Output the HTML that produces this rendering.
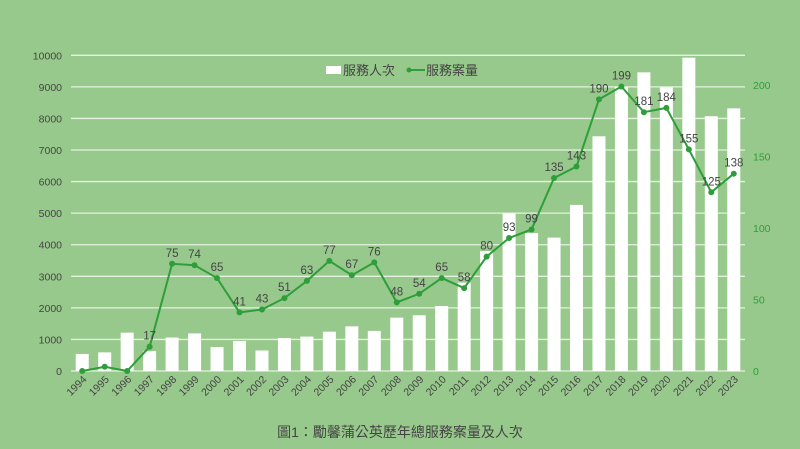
<!DOCTYPE html>
<html><head><meta charset="utf-8"><style>
html,body{margin:0;padding:0;background:#98c98c;}
svg{display:block;font-family:"Liberation Sans","Noto Sans CJK TC",sans-serif;}
</style></head><body>
<svg id="c" width="800" height="449" viewBox="0 0 800 449">
<rect x="0" y="0" width="800" height="449" fill="#98c98c"/>
<g id="grid"></g><g id="bars"></g><g id="line"></g><g id="axes"></g>
<g>
<rect x="326" y="66" width="15" height="8" fill="#fff"/>
<text x="343" y="75" font-size="13" fill="#444">服務人次</text>
<line x1="407" y1="70" x2="425" y2="70" stroke="#2e9e3a" stroke-width="2"/>
<circle cx="409" cy="70" r="2.5" fill="#2e9e3a"/>
<text x="426" y="75" font-size="13" fill="#444">服務案量</text>
</g>
<text x="400" y="437" font-size="14" fill="#444" text-anchor="middle">圖1：勵馨蒲公英歷年總服務案量及人次</text>
</svg>
<script>
const years=["1994","1995","1996","1997","1998","1999","2000","2001","2002","2003","2004","2005","2006","2007","2008","2009","2010","2011","2012","2013","2014","2015","2016","2017","2018","2019","2020","2021","2022","2023"];
const people=[540,590,1215,630,1060,1190,760,950,650,1045,1090,1245,1415,1270,1690,1765,2060,2800,3800,4995,4370,4225,5260,7435,9000,9460,8980,9925,8070,8320];
const cases=[0,3,0,17,75,74,65,41,43,51,63,77,67,76,48,54,65,58,80,93,99,135,143,190,199,181,184,155,125,138];
const leftTicks=[0,1000,2000,3000,4000,5000,6000,7000,8000,9000,10000];
const rightTicks=[0,50,100,150,200];
const NS="http://www.w3.org/2000/svg";
const X0=71,X1=745,Y0=371,Y1=55.3,LMAX=10000,RMAX=220.8;
const bw=(X1-X0)/years.length;
const xc=i=>X0+bw*(i+0.5);
const yl=v=>Y0-(v/LMAX)*(Y0-Y1);
const yr=v=>Y0-(v/RMAX)*(Y0-Y1);
function mk(tag,attrs,parent){const e=document.createElementNS(NS,tag);for(const k in attrs)e.setAttribute(k,attrs[k]);parent.appendChild(e);return e;}
const grid=document.getElementById('grid'),bars=document.getElementById('bars'),line=document.getElementById('line'),axes=document.getElementById('axes');
leftTicks.forEach(t=>{
  const g=mk('line',{x1:X0,x2:X1,y1:yl(t),y2:yl(t),stroke:'#e4f1df','stroke-width':1.3},grid);
  
  
  const tx=mk('text',{x:62,y:yl(t)+4,'font-size':10.5,fill:'#444','text-anchor':'end'},axes);
  tx.textContent=t;
  
  
});
rightTicks.forEach(t=>{
  const tx=mk('text',{x:753,y:yr(t)+4,'font-size':10.5,fill:'#2e9e3a'},axes);
  tx.textContent=t;
  
  
});
people.forEach((v,i)=>{
  const r=mk('rect',{x:xc(i)-6.5,y:yl(v),width:13,height:Y0-yl(v),fill:'#fff'},bars);
  
  
});
years.forEach((y,i)=>{
  const tx=mk('text',{x:0,y:0,'font-size':10.5,fill:'#444','text-anchor':'end',transform:`translate(${xc(i)+5},${Y0+9}) rotate(-45)`},axes);
  tx.textContent=y;
  
  
});
const pts=cases.map((v,i)=>xc(i)+','+yr(v)).join(' ');
const pl=mk('polyline',{points:pts,fill:'none',stroke:'#2e9e3a','stroke-width':2},line);


cases.forEach((v,i)=>{
  const c=mk('circle',{cx:xc(i),cy:yr(v),r:3,fill:'#2e9e3a'},line);
  
  
  if(i>=3){
    const tx=mk('text',{x:xc(i),y:yr(v)-7,'font-size':11.5,fill:'#444','text-anchor':'middle'},line);
    tx.textContent=v;
    
    
  }
});
</script>
</body></html>
